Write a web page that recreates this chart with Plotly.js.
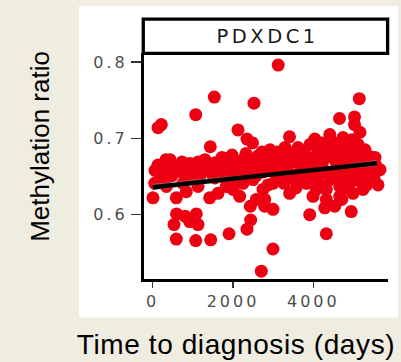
<!DOCTYPE html>
<html>
<head>
<meta charset="utf-8">
<script src="https://cdn.plot.ly/plotly-3.0.1.min.js"></script>
<style>
  html, body { margin: 0; padding: 0; background: #efece0; }
  #chart { width: 401px; height: 362px; }
  g.xtick text, g.ytick text { letter-spacing: 3px; }
  g.annotation[data-index="0"] text { letter-spacing: 3.5px; }
  g.annotation[data-index="2"] text { letter-spacing: 0.6px; }
</style>
</head>
<body>
<div id="chart"></div>
<script>
// Observations: time to diagnosis (days) and methylation ratio
const timeDays = [
  3125, 1534, 2522, 5144, 1071, 4651, 5025, 5025, 214, 132,
  2124, 5162, 3406, 4036, 4410, 4739, 4489, 2348, 2485, 1434,
  3506, 4116, 4905, 5411, 431, 921, 2248, 2497,
  57, 50, 7, 588, 837, 1128, 1419, 1626, 1833, 2000,
  2248, 2497, 2746, 2580, 2789, 2166, 2430, 2995, 2995, 2789,
  3411, 3825, 4074, 4323, 4656, 4905, 5154, 5403, 5610, 3992,
  4323, 4656, 4987, 5236, 3909, 4285, 4532, 4943, 4706, 593,
  804, 1086, 530, 921, 1128, 588, 1071, 1444, 1900, 2348,
  2440, 2995, 2704, 4323, 5329,
  90, 672, 1003, 1252, 1419, 1668, 339, 754, 684, 971,
  1302, 1676, 2092, 2298, 2423, 2754, 3088, 3252,
  3742, 3917, 4166, 4365, 4540, 4714, 4864, 5062, 5212, 5461,
  3668, 3967, 4216, 4465, 4714, 4963, 5162, 5361, 3568, 3817,
  4116, 4415, 4664, 4913, 3319, 3170, 3419, 3618, 2921, 2746,
  2622, 2871, 3070, 3220, 2373, 2174, 1875, 1925, 1551, 1551,
  1178, 879, 481, 257, 382, 730, 1128, 1302, 1726, 1975,
  2722, 2921, 3120, 3294, 3917, 4216, 4565, 4789, 5112, 5286,
  5535, 5660, 5510, 5212, 132, 581, 2100, 2871, 3269, 3568,
  3668,
  182, 331, 481, 779, 929, 1078, 1352, 1501, 1726, 1825,
  2025, 2174, 2273, 2473, 2572, 2672, 2821, 3020, 3170, 3369,
  3468, 3718, 3867, 4066, 4315, 4564, 4813, 5012, 5311, 5560,
  4315, 4614, 5062, 4016, 4216, 4813, 5461, 1975, 2323, 3020,
  3618, 4365, 4963
];
const methRatio = [
  0.796, 0.754, 0.746, 0.752, 0.731, 0.726, 0.728, 0.718, 0.718, 0.714,
  0.711, 0.708, 0.702, 0.699, 0.705, 0.701, 0.695, 0.699, 0.694, 0.689,
  0.681, 0.686, 0.689, 0.676, 0.672, 0.667, 0.672, 0.669,
  0.658, 0.641, 0.622, 0.622, 0.630, 0.637, 0.622, 0.628, 0.637, 0.633,
  0.641, 0.646, 0.633, 0.620, 0.611, 0.624, 0.611, 0.607, 0.641, 0.620,
  0.628, 0.641, 0.633, 0.633, 0.637, 0.641, 0.644, 0.646, 0.639, 0.624,
  0.620, 0.624, 0.628, 0.633, 0.600, 0.609, 0.611, 0.604, 0.620, 0.601,
  0.598, 0.601, 0.587, 0.591, 0.587, 0.568, 0.566, 0.567, 0.575, 0.581,
  0.593, 0.555, 0.526, 0.575, 0.639,
  0.659, 0.657, 0.661, 0.657, 0.659, 0.655, 0.637, 0.641, 0.661, 0.661,
  0.658, 0.657, 0.661, 0.670, 0.665, 0.663, 0.667, 0.663,
  0.682, 0.675, 0.681, 0.685, 0.678, 0.685, 0.676, 0.682, 0.672, 0.665,
  0.665, 0.659, 0.665, 0.656, 0.664, 0.655, 0.661, 0.656, 0.652, 0.648,
  0.651, 0.646, 0.651, 0.652, 0.656, 0.648, 0.672, 0.675, 0.672, 0.656,
  0.677, 0.661, 0.656, 0.675, 0.656, 0.652, 0.665, 0.651, 0.668, 0.648,
  0.651, 0.648, 0.651, 0.648, 0.664, 0.669, 0.669, 0.672, 0.675, 0.678,
  0.682, 0.685, 0.682, 0.688, 0.692, 0.694, 0.690, 0.694, 0.692, 0.685,
  0.675, 0.659, 0.648, 0.650, 0.665, 0.661, 0.643, 0.639, 0.641, 0.635,
  0.644,
  0.654, 0.672, 0.659, 0.654, 0.664, 0.648, 0.667, 0.651, 0.661, 0.646,
  0.659, 0.664, 0.651, 0.661, 0.651, 0.667, 0.672, 0.667, 0.661, 0.664,
  0.648, 0.656, 0.669, 0.672, 0.675, 0.669, 0.672, 0.667, 0.672, 0.664,
  0.656, 0.659, 0.648, 0.643, 0.638, 0.635, 0.654, 0.675, 0.680, 0.677,
  0.688, 0.693, 0.698
];

// Linear fit and its confidence band
const fitX = [0, 5580];
const fitY = [0.636, 0.6675];
const bandX = [0, 1400, 2790, 4190, 5580];
const bandLo = [0.6315, 0.6410, 0.6497, 0.6572, 0.6630];
const bandHi = [0.6405, 0.6480, 0.6538, 0.6618, 0.6720];

const categories = ['PDXDC1'];
const xTicks = [0, 2000, 4000];
const yTicks = [0.6, 0.7, 0.8];
const yTickText = ['0.6', '0.7', '0.8'];

const traces = [
  {
    type: 'scatter', mode: 'markers', x: timeDays, y: methRatio,
    marker: { color: '#ec0012', size: 13, line: { width: 0 } },
    hoverinfo: 'skip', showlegend: false, cliponaxis: false
  },
  {
    type: 'scatter', mode: 'lines', x: bandX, y: bandLo,
    line: { width: 0, color: 'rgba(0,0,0,0)' }, showlegend: false, hoverinfo: 'skip'
  },
  {
    type: 'scatter', mode: 'lines', x: bandX, y: bandHi, fill: 'tonexty',
    fillcolor: 'rgba(153,153,153,0.45)',
    line: { width: 0, color: 'rgba(0,0,0,0)' }, showlegend: false, hoverinfo: 'skip'
  },
  {
    type: 'scatter', mode: 'lines', x: fitX, y: fitY,
    line: { color: '#000000', width: 4.5 }, showlegend: false, hoverinfo: 'skip'
  }
];

const tickFont = { family: 'DejaVu Sans', size: 16, color: '#4d4d4d' };

const layout = {
  width: 401, height: 362,
  paper_bgcolor: '#efece0', plot_bgcolor: '#ffffff',
  margin: { l: 144, r: 13, t: 53, b: 82.5, pad: 0 },
  showlegend: false,
  xaxis: {
    range: [-217, 5859], tickvals: xTicks, ticktext: xTicks.map(String),
    showline: true, linecolor: '#000000', linewidth: 3,
    ticks: 'outside', ticklen: 6, tickwidth: 1.5, tickcolor: '#333333',
    showgrid: false, zeroline: false, tickfont: tickFont
  },
  yaxis: {
    range: [0.5157, 0.8118], tickvals: yTicks, ticktext: yTickText,
    showline: true, linecolor: '#000000', linewidth: 3,
    ticks: 'outside', ticklen: 10, tickwidth: 1.5, tickcolor: '#333333',
    showgrid: false, zeroline: false, tickfont: tickFont
  },
  shapes: [
    { type: 'rect', xref: 'paper', yref: 'paper', layer: 'below',
      x0: -0.266, x1: 1.041, y0: -0.170, y1: 1.2075,
      fillcolor: '#ffffff', line: { width: 0 } },
    { type: 'rect', xref: 'paper', yref: 'paper',
      x0: -0.003, x1: 0.9984, y0: 0.9987, y1: 1.150,
      fillcolor: '#ffffff', line: { color: '#000000', width: 3.3 } }
  ],
  annotations: [
    { text: categories[0], xref: 'paper', yref: 'paper', x: 0.505, y: 1.075,
      xanchor: 'center', yanchor: 'middle', showarrow: false,
      font: { family: 'DejaVu Sans', size: 19.5, color: '#1a1a1a' } },
    { text: 'Methylation ratio', xref: 'paper', yref: 'paper', x: -0.426, y: 0.585,
      xanchor: 'center', yanchor: 'middle', textangle: -90, showarrow: false,
      font: { family: 'Liberation Sans', size: 26, color: '#000000' } },
    { text: 'Time to diagnosis (days)', xref: 'paper', yref: 'paper', x: 0.376, y: -0.288,
      xanchor: 'center', yanchor: 'middle', showarrow: false,
      font: { family: 'Liberation Sans', size: 28, color: '#000000' } }
  ]
};

Plotly.newPlot('chart', traces, layout, { staticPlot: true, displayModeBar: false });
</script>
</body>
</html>
